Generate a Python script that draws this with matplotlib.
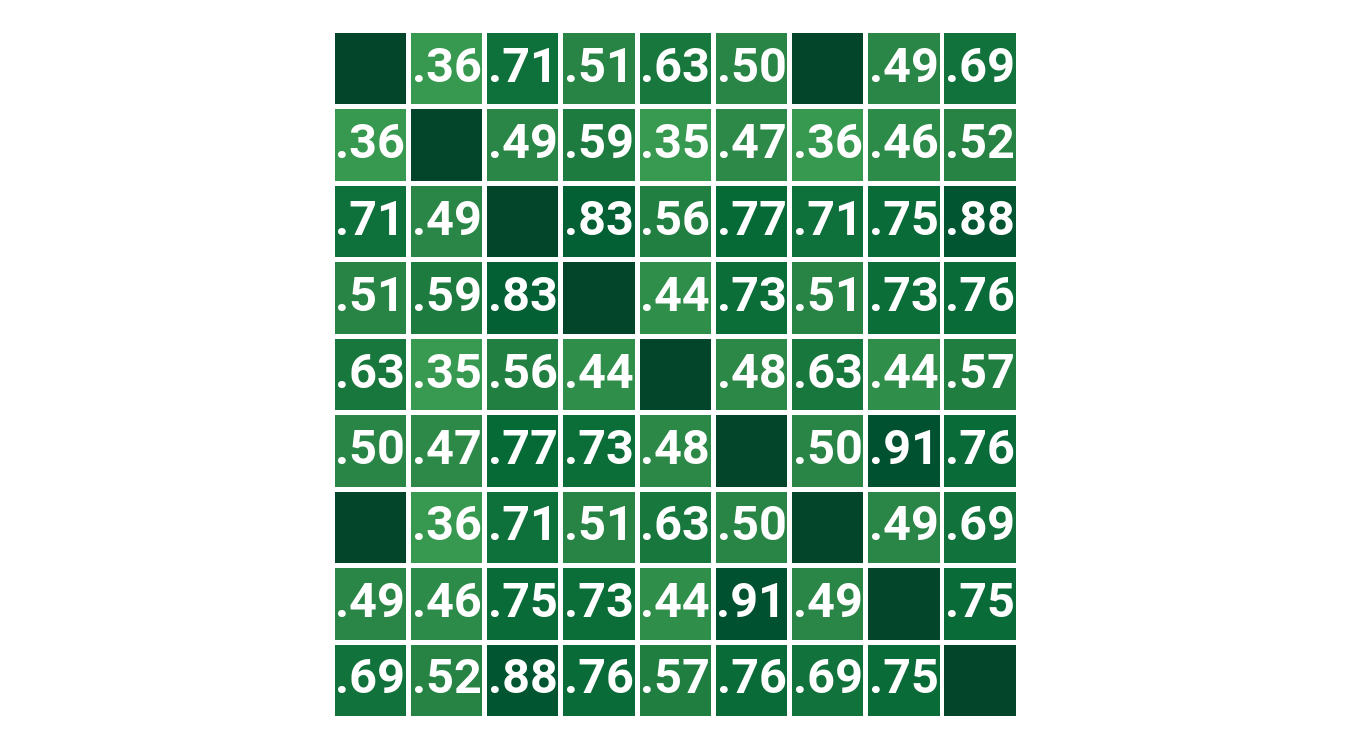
import numpy as np
import matplotlib
matplotlib.use("Agg")
import matplotlib.pyplot as plt
from matplotlib.colors import LinearSegmentedColormap
from matplotlib.patches import Rectangle

# correlation matrix (diagonal = 1, shown without label)
row0 = [1.00, 0.36, 0.71, 0.51, 0.63, 0.50, 1.00, 0.49, 0.69]
row1 = [0.36, 1.00, 0.49, 0.59, 0.35, 0.47, 0.36, 0.46, 0.52]
row2 = [0.71, 0.49, 1.00, 0.83, 0.56, 0.77, 0.71, 0.75, 0.88]
row3 = [0.51, 0.59, 0.83, 1.00, 0.44, 0.73, 0.51, 0.73, 0.76]
row4 = [0.63, 0.35, 0.56, 0.44, 1.00, 0.48, 0.63, 0.44, 0.57]
row5 = [0.50, 0.47, 0.77, 0.73, 0.48, 1.00, 0.50, 0.91, 0.76]
row6 = [1.00, 0.36, 0.71, 0.51, 0.63, 0.50, 1.00, 0.49, 0.69]
row7 = [0.49, 0.46, 0.75, 0.73, 0.44, 0.91, 0.49, 1.00, 0.75]
row8 = [0.69, 0.52, 0.88, 0.76, 0.57, 0.76, 0.69, 0.75, 1.00]

corr = np.array([row0, row1, row2, row3, row4, row5, row6, row7, row8])
n = corr.shape[0]

# green ramp
cmap = LinearSegmentedColormap.from_list(
    "greens_sampled",
    [(0.0, "#389a51"), (0.22, "#2a8646"), (0.43, "#18773d"),
     (0.65, "#066a37"), (0.86, "#005130"), (1.0, "#02452a")],
)
vmin, vmax = 0.35, 1.0

fig = plt.figure(figsize=(13.5, 7.5), dpi=100)
ax = fig.add_axes([0.248, 0.0453, 0.5044, 0.9107])

gap = 0.065
for i in range(n):
    for j in range(n):
        v = corr[i, j]
        c = cmap((v - vmin) / (vmax - vmin))
        ax.add_patch(Rectangle((j, i), 1 - gap, 1 - gap, facecolor=c,
                               edgecolor="none"))
        if v < 1.0:
            label = f"{v:.2f}".lstrip("0")
            ax.text(j + (1 - gap) / 2, i + (1 - gap) / 2, label,
                    ha="center", va="center", color="white",
                    fontsize=35, fontweight="bold", family="Roboto")

ax.set_xlim(0, n - gap)
ax.set_ylim(n - gap, 0)
ax.axis("off")

fig.savefig("out.png", dpi=100)
